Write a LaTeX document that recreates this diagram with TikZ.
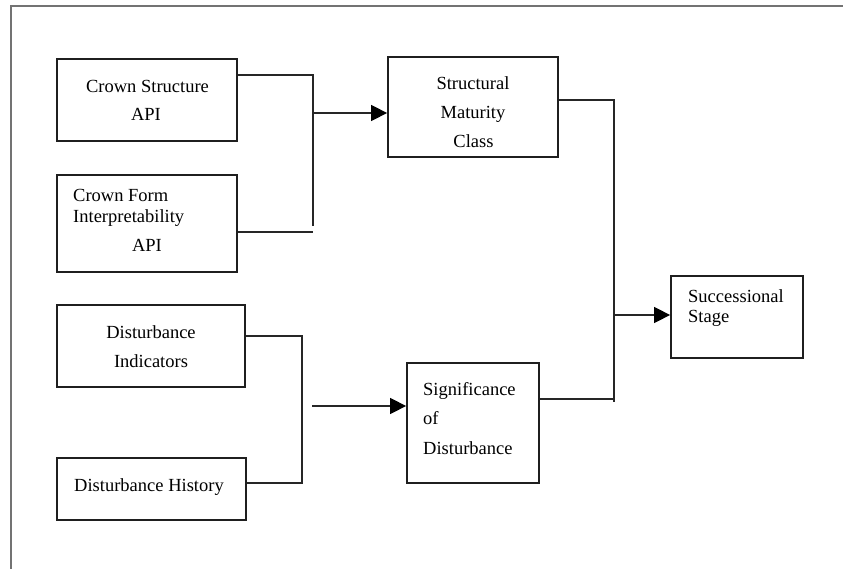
\documentclass[tikz,border=0pt]{standalone}
\usepackage{fontspec}
\setmainfont{Liberation Serif}
\usetikzlibrary{arrows.meta}
\begin{document}
\begin{tikzpicture}[x=1pt,y=-1pt,
  box/.style={draw=black!88,line width=1.8pt,inner sep=0pt,rectangle},
  lbl/.style={inner sep=0pt,font=\fontsize{18.5}{21}\selectfont,text=black},
  conn/.style={draw=black!85,line width=1.5pt},
  arr/.style={conn,-{Triangle[length=16pt,width=16pt,color=black]}},
  frame/.style={draw=black!55,line width=1.8pt}]
\useasboundingbox (0,0) rectangle (843,569);
% outer frame (only top and left edges visible)
\coordinate (ftl) at (11,6);
\coordinate (ftr) at (843,6);
\coordinate (fbl) at (11,569);
\draw[frame] (fbl) -- (ftl) -- (ftr);
% boxes
\node[box,minimum width=180pt,minimum height=82pt] (a) at (147,100) {};
\node[box,minimum width=180pt,minimum height=97pt] (b) at (147,223.5) {};
\node[box,minimum width=188pt,minimum height=82pt] (c) at (151,346) {};
\node[box,minimum width=189pt,minimum height=62pt] (d) at (151.5,489) {};
\node[box,minimum width=170pt,minimum height=100pt] (e) at (473,107) {};
\node[box,minimum width=132pt,minimum height=120pt] (f) at (473,423) {};
\node[box,minimum width=132pt,minimum height=82pt] (g) at (737,317) {};
% texts
\node[lbl,anchor=base] (a1) at (147.5,93) {Crown Structure};
\node[lbl,anchor=base] (a2) at (146,121) {API};
\node[lbl,anchor=base west] (b1) at (73,202) {Crown Form};
\node[lbl,anchor=base west] (b2) at (73,223) {Interpretability};
\node[lbl,anchor=base] (b3) at (147,252) {API};
\node[lbl,anchor=base] (c1) at (151,338) {Disturbance};
\node[lbl,anchor=base] (c2) at (151,367) {Indicators};
\node[lbl,anchor=base] (d1) at (149,491) {Disturbance History};
\node[lbl,anchor=base] (e1) at (473,90) {Structural};
\node[lbl,anchor=base] (e2) at (473,119) {Maturity};
\node[lbl,anchor=base] (e3) at (473.5,148) {Class};
\node[lbl,anchor=base west] (f1) at (423,395) {Significance};
\node[lbl,anchor=base west] (f2) at (423,424) {of};
\node[lbl,anchor=base west] (f3) at (423,454) {Disturbance};
\node[lbl,anchor=base west] (g1) at (688,302) {Successional};
\node[lbl,anchor=base west] (g2) at (688,323) {Stage};
% junction coordinates
\coordinate (ja) at (313,75);
\coordinate (jab) at (313,226);
\coordinate (jb) at (313,232);
\coordinate (jm1) at (313,113);
\coordinate (jc) at (302,336);
\coordinate (jd) at (302,483);
\coordinate (jm2) at (312,406);
\coordinate (je) at (614,100);
\coordinate (jf) at (614,402);
\coordinate (jfl) at (614,399);
\coordinate (jm3) at (614,315);
% connectors
\draw[conn] (a.east |- ja) -- (ja) -- (jab);
\draw[conn] (b.east |- jb) -- (jb);
\draw[arr] (jm1) -- (e.west |- jm1);
\draw[conn] (c.east |- jc) -- (jc) -- (jd) -- (d.east |- jd);
\draw[arr] (jm2) -- (f.west |- jm2);
\draw[conn] (e.east |- je) -- (je) -- (jf);
\draw[conn] (f.east |- jfl) -- (jfl);
\draw[arr] (jm3) -- (g.west |- jm3);
\end{tikzpicture}
\end{document}
